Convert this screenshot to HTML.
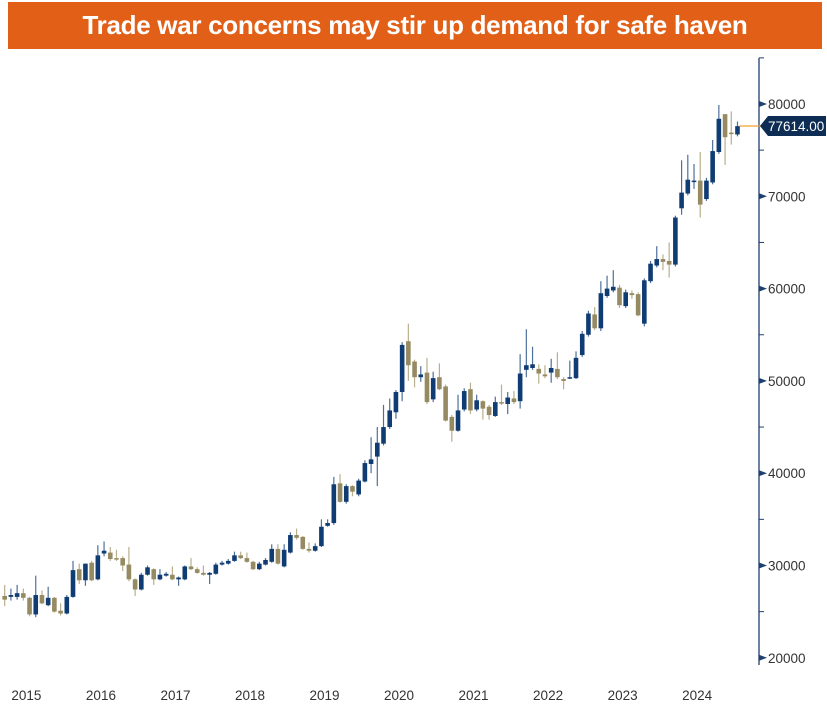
<!DOCTYPE html>
<html><head><meta charset="utf-8">
<style>
html,body{margin:0;padding:0;background:#fff;}
body{width:827px;height:717px;overflow:hidden;position:relative;font-family:"Liberation Sans",sans-serif;}
#title{position:absolute;left:8px;top:2px;width:814px;height:47px;background:#E15F17;color:#fff;font-weight:bold;font-size:26px;line-height:47px;text-align:center;letter-spacing:-0.3px;}
svg{position:absolute;left:0;top:0;}
</style></head><body>
<div id="title">Trade war concerns may stir up demand for safe haven</div>
<svg id="chart" width="827" height="717"></svg>
<script>
// Monthly OHLC values (thousands)
const opens  = [26.7,26.6,26.6,27.0,26.5,24.7,26.8,25.7,26.5,25.1,24.8,26.6,29.6,28.4,30.3,28.5,31.3,31.4,30.8,30.8,30.1,28.5,27.4,29.0,29.6,28.5,28.9,29.0,28.5,28.5,29.9,29.6,29.2,29.0,29.1,30.1,30.2,30.5,31.1,30.8,30.4,29.6,30.1,30.4,31.8,29.9,31.4,33.3,33.1,31.8,31.6,32.1,34.3,34.6,38.9,36.9,38.6,37.7,39.1,41.0,41.8,43.2,45.0,46.6,48.8,54.3,52.1,50.4,50.9,48.0,50.4,49.4,46.1,44.6,46.9,49.1,46.9,47.8,47.2,46.2,47.7,47.5,48.1,47.8,51.2,51.4,51.3,50.7,50.9,51.3,50.2,50.3,50.3,52.8,55.0,57.2,55.7,59.2,59.8,60.1,58.1,59.5,59.4,56.2,60.8,62.5,63.2,63.0,62.6,68.7,70.3,71.6,71.7,69.7,71.5,74.8,78.9,76.9,76.7];
const closes = [26.3,26.8,27.0,26.5,24.7,26.8,25.9,26.5,25.0,24.8,26.6,29.5,28.4,30.2,28.4,31.1,31.6,30.7,30.7,30.0,28.5,27.4,29.0,29.8,28.5,29.0,29.1,28.5,28.7,29.9,29.6,29.2,29.0,29.2,30.1,30.3,30.5,31.1,30.8,30.4,29.6,30.2,30.6,31.8,30.2,31.7,33.3,33.0,31.8,31.6,32.1,34.2,34.6,38.8,36.9,38.6,38.0,39.2,41.1,41.5,43.3,45.0,46.8,48.8,53.9,51.7,50.4,50.7,47.7,50.3,49.1,45.7,44.6,46.8,48.9,46.8,47.9,47.0,46.3,47.7,47.6,48.2,47.7,50.8,51.7,51.8,50.8,50.5,51.4,50.4,50.0,50.4,52.5,55.1,57.3,55.7,59.5,60.0,60.2,58.2,59.6,59.3,57.1,60.9,62.7,63.2,62.9,62.6,67.7,70.4,71.8,71.7,69.1,71.7,74.9,78.4,76.4,76.8,77.6];
const highs  = [27.9,27.5,27.9,27.5,26.6,28.9,27.3,27.7,26.6,25.9,26.8,30.5,30.2,30.2,30.5,32.2,32.6,32.0,31.7,31.0,32.0,28.6,29.2,30.0,29.7,29.6,29.3,29.9,28.8,30.0,30.8,29.8,30.0,29.3,30.3,30.5,30.7,31.5,31.5,31.4,30.5,30.4,30.8,32.3,32.3,32.3,33.6,34.0,33.2,32.5,32.4,35.0,35.0,39.6,39.9,38.8,38.7,39.4,41.4,43.9,45.0,47.4,48.1,49.0,54.2,56.2,52.3,51.6,52.5,51.0,51.9,49.6,46.3,48.5,49.2,49.8,48.5,47.9,47.4,48.3,49.6,48.8,48.9,52.9,55.6,53.7,51.8,51.7,52.4,53.1,50.4,52.2,53.2,55.4,57.6,58.0,60.8,61.4,62.0,60.4,59.9,59.8,59.6,61.1,63.0,64.6,63.7,65.0,67.9,73.9,74.5,73.5,74.8,72.0,76.1,79.9,78.9,79.2,78.1];
const lows   = [25.6,26.2,26.3,26.2,24.5,24.4,25.8,25.6,24.9,24.6,24.7,26.5,28.0,27.8,28.3,28.4,31.0,30.5,30.5,29.4,28.3,26.7,27.3,28.9,27.9,28.4,28.8,28.4,27.8,28.4,29.5,29.1,28.9,28.0,29.0,30.0,30.1,30.4,30.7,30.3,29.5,29.5,30.0,30.3,30.1,29.8,31.3,32.8,31.7,31.4,31.5,32.0,34.2,34.4,36.8,36.7,37.5,37.5,39.0,40.0,38.6,43.0,44.8,45.9,47.8,50.0,49.3,49.9,47.5,47.7,49.0,45.6,43.4,44.5,46.7,46.4,46.7,45.8,45.8,46.1,47.4,46.4,47.5,47.0,50.4,51.2,49.7,50.3,49.8,50.2,49.1,50.2,50.2,52.6,54.8,55.5,55.4,59.0,59.6,57.9,57.9,58.9,57.0,55.9,60.6,62.3,62.0,61.2,62.4,68.0,70.1,70.8,67.7,69.5,71.3,74.6,73.4,75.6,76.5];
const yTicks = [20000,30000,40000,50000,60000,70000,80000];
const yearLabels = ["2015","2016","2017","2018","2019","2020","2021","2022","2023","2024"];
const lastPrice = 77614.00;

const NS="http://www.w3.org/2000/svg";
const svg=document.getElementById('chart');
function X(i){return 4.7+i*6.21;}
function Y(v){return 104+(80000-v)/10000*92.3;}
function mk(t,a){const e=document.createElementNS(NS,t);for(const k in a)e.setAttribute(k,a[k]);svg.appendChild(e);return e;}

// axis
const ax=mk('line',{x1:759,y1:58,x2:759,y2:665,stroke:'#1f3f6e','stroke-width':1.3});


for(let v=20000;v<=85000;v+=5000){
  const t=mk('line',{x1:759,y1:Y(v),x2:764,y2:Y(v),stroke:'#1f3f6e','stroke-width':1});
  
  
}
yTicks.forEach(v=>{
  const y=Y(v);
  const p=mk('polygon',{points:`759,${y-3} 767,${y} 759,${y+3}`,fill:'#1f3f6e'});
  
  
  const t=mk('text',{x:768,y:y+5,'font-size':13.5,fill:'#333','font-family':'Liberation Sans, sans-serif'});
  t.textContent=String(v);
  
  
});
yearLabels.forEach((s,k)=>{
  const t=mk('text',{x:X(12*k+3.5),y:700,'font-size':13.5,fill:'#333','text-anchor':'middle','font-family':'Liberation Sans, sans-serif'});
  t.textContent=s;
  
  
});
// candles
closes.forEach((c,i)=>{
  const o=opens[i],up=c>=o,col=up?'#0f3c73':'#958a62';
  const x=X(i);
  const w=mk('line',{x1:x,y1:Y(highs[i]*1000),x2:x,y2:Y(lows[i]*1000),stroke:up?'#4f6f9a':'#b8af8c','stroke-width':1.2});
  
  
  const top=Y(Math.max(o,c)*1000),bot=Y(Math.min(o,c)*1000);
  const b=mk('rect',{x:x-2.3,y:top,width:4.6,height:Math.max(1.5,bot-top),fill:col});
  
  
});
// last price marker
const ly=Y(lastPrice);
const ll=mk('line',{x1:X(closes.length-1)+2,y1:ly,x2:762,y2:ly,stroke:'#f0a030','stroke-width':1.3});


const lb=mk('polygon',{points:`760,${ly} 768,${ly-10} 826,${ly-10} 826,${ly+10} 768,${ly+10}`,fill:'#0d2d55'});


const lt=mk('text',{x:768,y:ly+5,'font-size':13.5,fill:'#fff','font-family':'Liberation Sans, sans-serif'});
lt.textContent=lastPrice.toFixed(2);


</script>
</body></html>
